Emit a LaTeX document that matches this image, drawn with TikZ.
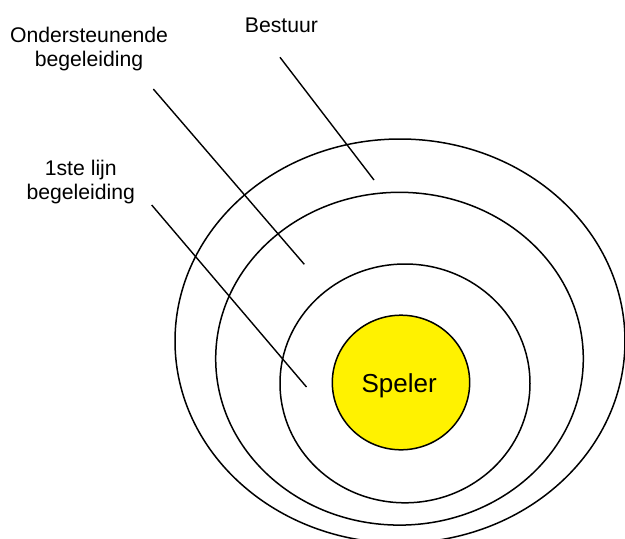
\documentclass[tikz,border=0pt]{standalone}
\usepackage{fontspec}
\setmainfont{Liberation Sans}
\usetikzlibrary{shapes.geometric}
\begin{document}
\begin{tikzpicture}[x=1pt,y=-1pt,
  ring/.style={draw, ellipse, line width=1.5pt, inner sep=0pt},
  lbl/.style={font=\fontsize{21.2}{24.3}\selectfont, align=center, inner sep=0pt},
  leader/.style={line width=1.4pt}]
\useasboundingbox (0,0) rectangle (625,539);
\node[ring, minimum width=450pt, minimum height=404pt] (bestuurring) at (400,341) {};
\node[ring, minimum width=367.6pt, minimum height=332.8pt] (ondring) at (399.5,358.7) {};
\node[ring, minimum width=250pt, minimum height=238.8pt] (lijnring) at (405,383.4) {};
\node[ring, fill=yellow, minimum width=137.4pt, minimum height=134.6pt] (speler) at (401,382.5) {};
\node[font=\fontsize{26}{30}\selectfont, inner sep=0pt, anchor=base] (spelertxt) at (399.2,392.7) {Speler};
\coordinate (bA) at (280,57.3); \coordinate (bB) at (374,180);
\coordinate (oA) at (153.3,89); \coordinate (oB) at (304.3,264.3);
\coordinate (lA) at (151.7,205); \coordinate (lB) at (306.5,387);
\draw[leader] (bA) -- (bB);
\draw[leader] (oA) -- (oB);
\draw[leader] (lA) -- (lB);
\node[lbl, anchor=base] (bestuur) at (281.5,32.3) {Bestuur};
\node[lbl, anchor=base] (ond) at (89,66.7) {Ondersteunende\\begeleiding};
\node[lbl, anchor=base] (lijn) at (80.8,199.3) {1ste lijn\\begeleiding};
\end{tikzpicture}
\end{document}
